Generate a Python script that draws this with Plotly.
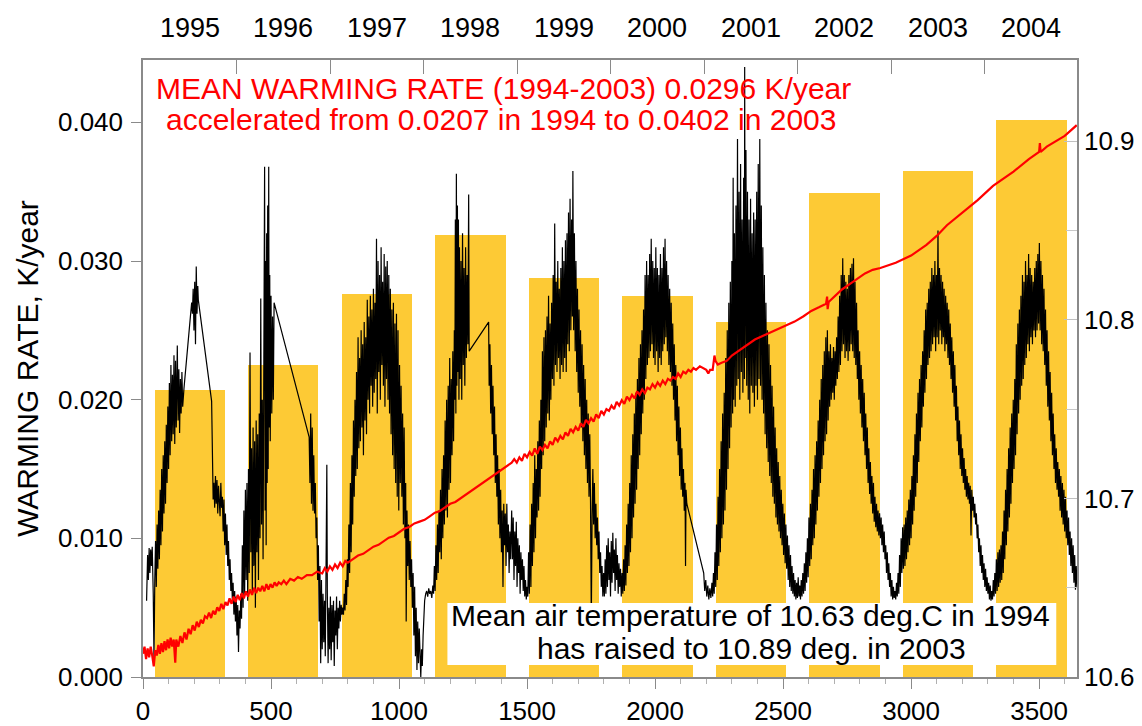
import plotly.graph_objects as go

# Annual mean warming rate (K/year), one bar per year 1994..2003
years = [1994, 1995, 1996, 1997, 1998, 1999, 2000, 2001, 2002, 2003]
annual_rate = [0.0207, 0.0225, 0.0276, 0.0319, 0.0288, 0.0275, 0.0256, 0.0349, 0.0365, 0.0402]

# Labels of the top axis (one per year of record)
top_labels = ["1995", "1996", "1997", "1998", "1999", "2000", "2001", "2002", "2003", "2004"]

# Daily warming rate, (day number, rate in 1e-3 K/year), per year of record
rate_1994 = [(14,5.5),(18,8.8),(21,7.0),(24,9.3),(27,7.5),(30,9.2),(33,8.0),(36,9.4),(40,6.0),(43,1.2),(46,7.0),(49,9.8),(52,6.5),(55,11.0),(58,7.8),(61,12.0),(64,8.5),(67,13.5),(70,9.5),(73,15.0),(76,10.5),(79,16.0),(82,11.8),(85,17.0),(88,12.5),(91,18.2),(94,14.0),(97,19.5),(100,15.0),(103,21.2),(106,16.0),(109,22.5),(112,17.0),(115,21.8),(118,17.5),(121,23.2),(124,16.8),(127,22.8),(130,18.0),(134,23.9),(137,18.5),(140,22.2),(143,17.6),(146,21.5),(149,19.0),(152,22.0),(155,19.5),(160,20.8),(190,27.0),(193,26.2),(196,28.0),(199,25.0),(202,28.5),(205,24.0),(208,29.6),(211,26.2),(214,28.2),(216,27.2),(268,19.9),(271,16.0),(274,12.8),(277,14.0),(280,12.2),(283,14.5),(286,12.5),(289,14.2),(292,11.8),(295,13.8),(298,12.8),(301,11.6),(304,14.0),(307,12.2),(310,13.0),(313,10.5),(316,12.8),(319,9.5),(322,11.8),(325,8.8),(328,11.0),(331,8.0),(334,9.8),(337,7.0),(340,8.5),(343,6.2)]
rate_1995 = [(346,7.5),(349,5.5),(352,6.8),(355,4.5),(358,6.2),(361,4.0),(364,5.8),(367,3.0),(370,5.2),(373,1.8),(376,4.8),(379,3.5),(382,6.0),(385,4.2),(388,9.5),(391,5.0),(394,12.0),(397,6.0),(400,13.5),(403,7.0),(406,14.0),(409,5.5),(412,15.0),(415,7.5),(418,23.4),(421,9.0),(424,16.5),(427,6.0),(430,18.0),(433,8.0),(436,17.0),(439,5.0),(442,18.5),(445,9.0),(448,17.5),(451,7.0),(454,19.0),(457,10.0),(460,27.3),(463,11.0),(466,20.0),(469,8.5),(472,23.0),(475,36.8),(477,12.0),(479,30.0),(481,9.5),(483,32.0),(485,14.0),(487,34.0),(489,15.0),(491,36.8),(493,18.0),(495,29.0),(497,17.0),(500,27.5),(503,19.0),(506,26.0),(509,20.0),(512,27.0),(649,17.3),(652,14.0),(655,19.0),(658,12.5),(661,18.0),(664,12.0),(667,16.0),(670,11.8),(673,14.0),(676,10.0),(679,11.5),(682,7.0),(685,9.5),(688,4.0),(691,8.0),(694,1.0),(697,7.0),(700,2.0),(703,6.0),(706,2.5)]
rate_1996 = [(709,5.5),(712,1.5),(715,8.0),(718,15.3),(720,6.0),(723,1.0),(726,5.0),(729,2.0),(732,5.8),(735,1.2),(738,5.2),(741,2.5),(744,5.5),(747,0.8),(750,4.8),(753,3.0),(756,5.8),(759,2.0),(762,5.0),(765,3.5),(768,5.5),(771,4.0),(774,5.2),(777,4.5),(780,5.0),(783,4.5),(786,6.0),(789,4.8),(792,7.0),(795,5.2),(798,8.5),(801,6.5),(804,11.0),(807,7.5),(810,14.0),(813,9.0),(816,16.0),(819,11.0),(822,18.5),(825,13.0),(828,20.0),(831,14.5),(834,22.0),(837,15.0),(840,24.5),(843,16.5),(846,23.0),(849,17.0),(852,25.0),(855,18.0),(858,24.0),(861,16.0),(864,25.6),(867,18.5),(870,24.5),(873,17.5),(876,27.2),(879,20.0),(882,26.0),(885,19.0),(888,27.5),(891,21.0),(894,26.5),(897,19.5),(900,28.0),(903,20.5),(906,27.0),(909,21.5),(912,31.6),(915,19.0),(918,30.0),(921,22.0),(924,29.0),(927,20.0),(930,31.0),(933,22.5),(936,28.5),(939,21.0),(942,30.5),(945,19.5),(948,29.6),(951,21.5),(954,30.0),(957,20.0),(960,29.0),(963,19.0),(966,28.0),(969,17.5),(972,26.5),(975,16.0),(978,27.0),(981,15.0),(984,25.5),(987,14.0),(990,26.2),(993,13.0),(996,25.0),(999,12.0),(1002,22.5),(1005,14.0),(1008,21.0),(1011,13.0),(1014,19.0),(1017,11.0),(1020,18.0),(1023,10.0),(1026,14.0),(1028,4.0),(1031,12.0),(1034,8.0),(1037,11.0),(1040,7.0),(1043,9.8),(1046,6.5),(1049,8.5),(1052,5.0),(1055,7.5),(1058,3.0),(1061,6.5),(1064,1.5),(1067,5.0),(1070,0.5)]
rate_1997 = [(1073,4.0),(1076,1.0),(1079,3.5),(1082,0.5),(1085,0.0),(1088,2.0),(1091,0.8),(1094,3.0),(1097,4.5),(1100,5.5),(1104,6.0),(1108,6.2),(1112,5.8),(1116,6.4),(1120,6.0),(1124,6.2),(1128,5.7),(1132,6.6),(1135,6.0),(1138,8.0),(1141,6.2),(1144,9.5),(1147,7.0),(1150,11.0),(1153,7.5),(1156,12.0),(1159,9.0),(1162,13.5),(1165,8.5),(1168,15.0),(1171,10.0),(1174,16.0),(1177,11.0),(1180,18.5),(1183,12.0),(1186,20.0),(1189,11.5),(1192,21.0),(1195,13.5),(1198,23.0),(1201,14.0),(1204,21.5),(1207,16.0),(1210,23.5),(1213,17.0),(1216,25.0),(1218,20.0),(1220,33.0),(1222,19.0),(1224,36.3),(1226,21.0),(1228,34.0),(1230,22.0),(1232,33.0),(1234,20.0),(1236,31.0),(1239,21.5),(1242,30.0),(1245,20.0),(1248,32.0),(1251,22.5),(1254,29.5),(1257,21.0),(1260,31.0),(1263,23.0),(1266,29.0),(1269,24.0),(1272,34.8),(1274,23.5),(1350,25.6),(1352,21.0),(1355,24.0),(1358,19.0),(1361,22.5),(1364,17.5),(1367,21.0),(1370,16.0),(1373,19.5),(1376,14.0),(1379,17.5),(1382,13.0),(1385,16.0),(1388,11.0),(1391,15.0),(1394,10.0),(1397,13.5),(1400,9.0),(1403,12.0),(1406,6.5),(1409,12.5),(1412,9.5),(1415,11.8),(1418,8.0),(1421,12.5),(1424,9.0),(1427,11.0),(1430,7.5),(1433,10.5),(1436,8.5)]
rate_1998 = [(1440,12.0),(1443,8.5),(1446,11.5),(1449,7.0),(1452,10.5),(1455,8.0),(1458,11.2),(1461,6.5),(1464,10.0),(1467,7.5),(1470,9.5),(1473,6.0),(1476,9.0),(1479,7.0),(1482,8.5),(1485,6.2),(1488,8.0),(1491,5.8),(1494,7.0),(1497,5.6),(1500,6.5),(1503,5.8),(1506,9.0),(1509,6.0),(1512,11.0),(1515,6.5),(1518,12.5),(1521,8.0),(1524,14.0),(1527,9.0),(1530,16.0),(1533,10.0),(1536,15.0),(1539,11.5),(1542,17.0),(1545,12.0),(1548,18.5),(1551,13.0),(1554,20.0),(1557,15.0),(1560,23.5),(1563,16.0),(1566,24.5),(1569,17.0),(1572,25.0),(1575,18.0),(1578,26.0),(1581,19.0),(1584,27.5),(1587,18.5),(1590,25.5),(1593,20.0),(1596,27.0),(1599,21.5),(1602,29.0),(1605,21.0),(1608,32.7),(1611,22.5),(1614,28.5),(1617,22.0),(1620,30.0),(1623,23.0),(1626,28.0),(1629,21.5),(1632,29.5),(1635,22.5),(1638,31.0),(1641,22.0),(1644,30.0),(1647,23.0),(1650,31.5),(1653,22.0),(1656,32.0),(1659,24.0),(1662,33.5),(1665,23.5),(1668,34.5),(1671,25.0),(1674,33.0),(1677,26.0),(1679,36.5),(1682,25.0),(1685,32.0),(1688,23.5),(1691,30.0),(1694,22.0),(1697,28.0),(1700,20.5),(1703,26.5),(1706,19.5),(1709,25.0),(1712,18.0),(1715,24.0),(1718,17.0),(1721,22.5),(1724,16.0),(1727,21.5),(1730,15.0),(1733,20.0),(1736,14.0),(1739,19.0),(1742,13.0),(1745,17.5),(1748,12.5),(1751,4.0),(1754,11.5),(1757,15.0),(1760,11.0),(1763,14.0),(1766,10.0),(1769,12.5),(1772,9.5),(1775,11.5),(1778,8.5),(1781,10.5),(1784,7.5),(1787,9.0),(1790,6.5),(1793,8.0),(1796,5.8),(1799,7.5),(1802,5.8)]
rate_1999 = [(1805,8.5),(1808,6.0),(1811,9.5),(1814,6.5),(1817,10.0),(1820,7.0),(1823,9.0),(1826,5.8),(1829,9.8),(1832,6.8),(1835,10.4),(1838,7.5),(1841,9.2),(1844,6.2),(1847,10.0),(1850,7.0),(1853,8.8),(1856,6.0),(1859,8.2),(1862,6.5),(1865,7.8),(1868,5.8),(1871,7.5),(1874,6.0),(1877,8.5),(1880,6.2),(1883,9.5),(1886,6.6),(1889,11.0),(1892,7.5),(1895,12.5),(1898,8.0),(1901,14.0),(1904,9.0),(1907,16.0),(1910,10.0),(1913,17.5),(1916,11.5),(1919,19.0),(1922,12.5),(1925,20.5),(1928,13.5),(1931,21.5),(1934,15.0),(1937,23.0),(1940,16.0),(1943,24.0),(1946,17.5),(1949,25.0),(1952,19.0),(1955,26.5),(1958,20.0),(1961,29.0),(1964,21.5),(1967,30.0),(1970,22.5),(1973,29.0),(1976,23.0),(1979,30.5),(1982,23.5),(1985,31.6),(1988,24.0),(1991,30.0),(1994,23.0),(1997,29.5),(2000,22.5),(2003,31.0),(2006,23.5),(2009,29.5),(2012,22.0),(2015,29.0),(2018,23.0),(2021,30.5),(2024,22.5),(2027,29.5),(2030,23.5),(2033,31.0),(2036,24.0),(2039,31.6),(2042,24.5),(2045,30.0),(2048,23.5),(2051,29.0),(2054,22.5),(2057,28.0),(2060,22.0),(2063,27.0),(2066,21.0),(2069,25.5),(2072,20.0),(2075,24.0),(2078,18.5),(2081,22.5),(2084,17.0),(2087,21.0),(2090,16.0),(2093,19.5),(2096,14.5),(2099,18.0),(2102,13.5),(2105,16.5),(2108,13.0),(2111,15.0),(2114,12.0),(2117,14.0),(2119,8.0),(2121,13.5),(2124,12.5)]
rate_2000 = [(2190,7.5),(2194,6.2),(2198,7.0),(2202,5.8),(2206,6.6),(2210,5.6),(2214,6.4),(2218,5.7),(2222,6.8),(2225,5.8),(2228,7.5),(2231,6.0),(2234,9.0),(2237,6.5),(2240,11.0),(2243,7.0),(2246,13.0),(2249,8.0),(2252,15.0),(2255,9.0),(2258,17.0),(2261,10.0),(2264,19.0),(2267,11.0),(2270,20.5),(2273,12.0),(2276,23.0),(2279,13.5),(2282,25.0),(2285,15.0),(2288,27.0),(2291,16.5),(2294,28.5),(2297,18.0),(2300,30.0),(2303,19.0),(2305,36.0),(2307,20.0),(2310,32.0),(2313,19.5),(2316,34.0),(2319,21.0),(2322,38.8),(2325,21.5),(2328,35.0),(2331,20.0),(2334,37.0),(2337,22.0),(2340,33.0),(2343,20.5),(2346,36.0),(2349,21.5),(2350,44.0),(2352,23.0),(2355,38.0),(2358,21.0),(2361,35.0),(2364,20.0),(2367,33.0),(2370,19.0),(2373,34.5),(2376,21.0),(2379,32.0),(2382,20.5),(2385,33.5),(2388,19.5),(2391,33.0),(2394,21.0),(2397,35.0),(2400,20.0),(2403,37.0),(2406,21.5),(2409,38.8),(2412,21.0),(2415,34.0),(2418,20.0),(2421,31.0),(2424,19.0),(2427,29.0),(2430,17.5),(2433,27.0),(2436,16.5),(2439,25.0),(2442,15.5),(2445,24.0),(2448,14.5),(2451,22.5),(2454,14.0),(2457,21.0),(2460,13.0),(2463,19.5),(2466,12.5),(2469,18.0),(2472,11.5),(2475,16.5),(2478,11.0),(2481,15.5),(2484,10.5),(2487,14.5),(2490,10.0),(2493,13.5),(2496,9.5),(2499,12.5),(2502,8.8),(2505,11.8),(2508,8.2),(2511,11.0),(2514,7.8),(2517,10.2),(2520,7.0),(2523,9.5),(2526,6.5),(2529,8.8),(2532,6.2)]
rate_2001 = [(2535,8.0),(2538,6.0),(2541,7.5),(2544,5.8),(2547,7.0),(2550,5.6),(2553,6.8),(2556,5.7),(2559,7.2),(2562,5.8),(2565,6.6),(2568,5.6),(2571,7.0),(2574,5.8),(2577,7.5),(2580,6.0),(2583,8.2),(2586,6.2),(2589,9.0),(2592,6.8),(2595,10.0),(2598,7.2),(2601,11.5),(2604,8.0),(2607,12.5),(2610,8.5),(2613,13.5),(2616,9.5),(2619,15.0),(2622,10.0),(2625,16.0),(2628,11.0),(2631,17.0),(2634,12.0),(2637,18.5),(2640,13.0),(2643,20.0),(2646,14.0),(2649,21.5),(2652,15.0),(2655,22.5),(2658,16.0),(2661,23.5),(2664,17.0),(2667,24.5),(2670,17.5),(2673,25.0),(2676,18.5),(2679,23.5),(2682,19.5),(2685,24.0),(2688,20.0),(2691,23.0),(2694,20.5),(2697,23.8),(2700,20.0),(2703,23.5),(2706,21.0),(2709,24.5),(2712,21.5),(2715,26.0),(2718,22.0),(2721,27.5),(2724,22.5),(2727,29.0),(2730,23.5),(2733,30.2),(2736,24.0),(2739,29.0),(2742,23.0),(2745,28.5),(2748,23.5),(2751,28.0),(2754,22.8),(2757,29.0),(2760,23.5),(2763,29.5),(2766,24.0),(2769,29.8),(2772,23.5),(2775,30.2),(2778,23.0),(2781,28.5),(2784,22.5),(2787,27.0),(2790,21.5),(2793,25.0),(2796,20.0),(2799,23.5),(2802,19.0),(2805,22.5),(2808,18.0),(2811,21.5),(2814,17.0),(2817,20.5),(2820,16.0),(2823,19.0),(2826,15.0),(2829,18.0),(2832,14.0),(2835,16.5),(2838,13.2),(2841,15.5),(2844,12.5),(2847,14.5),(2850,11.8),(2853,14.0),(2856,11.2),(2859,13.0),(2862,10.8),(2865,12.5),(2868,10.5),(2871,12.0),(2874,10.2),(2877,11.8),(2880,10.0),(2883,11.5),(2886,9.5),(2889,11.0),(2892,9.0),(2895,10.5),(2898,8.5)]
rate_2002 = [(2901,9.5),(2904,7.5),(2907,9.0),(2910,7.0),(2913,8.2),(2916,6.5),(2919,7.5),(2922,5.8),(2925,7.0),(2928,5.6),(2931,6.5),(2934,5.7),(2937,6.2),(2940,5.6),(2943,6.8),(2946,5.8),(2949,7.5),(2952,6.0),(2955,8.8),(2958,6.5),(2961,10.0),(2964,7.5),(2967,10.8),(2970,7.8),(2973,11.0),(2976,8.0),(2979,11.5),(2982,8.5),(2985,12.0),(2988,9.0),(2991,12.8),(2994,9.5),(2997,13.5),(3000,10.0),(3003,14.5),(3006,11.0),(3009,16.0),(3012,12.0),(3015,17.5),(3018,13.0),(3021,19.0),(3024,14.0),(3027,20.5),(3030,15.5),(3033,21.5),(3036,17.0),(3039,22.5),(3042,18.0),(3045,23.5),(3048,19.5),(3051,25.0),(3054,20.5),(3057,26.5),(3060,21.5),(3063,27.0),(3066,22.5),(3069,28.0),(3072,23.0),(3075,28.5),(3078,23.5),(3081,29.5),(3084,24.0),(3087,29.0),(3090,24.5),(3093,30.0),(3096,23.5),(3099,29.0),(3102,24.5),(3105,32.2),(3108,24.0),(3111,29.5),(3114,25.0),(3117,29.0),(3120,24.0),(3123,28.5),(3126,24.5),(3129,28.0),(3132,23.5),(3135,27.5),(3138,24.0),(3141,27.0),(3144,23.0),(3147,26.5),(3150,22.5),(3153,25.5),(3156,21.5),(3159,24.5),(3162,20.5),(3165,23.5),(3168,19.5),(3171,22.5),(3174,18.5),(3177,21.0),(3180,17.0),(3183,19.5),(3186,16.0),(3189,18.5),(3192,15.0),(3195,17.5),(3198,14.5),(3201,16.5),(3204,14.0),(3207,15.8),(3210,13.5),(3213,15.0),(3216,13.0),(3219,14.5),(3222,12.8),(3225,14.0),(3228,12.5),(3231,13.8),(3234,10.2),(3237,13.5),(3240,12.0),(3243,13.0),(3246,11.5),(3249,12.5),(3252,11.0),(3255,11.8),(3258,10.0),(3261,11.0),(3264,9.0)]
rate_2003 = [(3267,10.0),(3270,8.0),(3273,9.5),(3276,7.5),(3279,8.8),(3282,7.0),(3285,8.2),(3288,6.5),(3291,7.8),(3294,6.2),(3297,7.2),(3300,6.0),(3303,6.8),(3306,5.6),(3309,6.6),(3312,5.5),(3315,6.2),(3318,5.6),(3321,7.0),(3324,5.8),(3327,7.5),(3330,6.0),(3333,8.5),(3336,6.2),(3339,9.0),(3342,6.5),(3345,9.2),(3348,6.8),(3351,9.5),(3354,7.0),(3357,10.5),(3360,7.5),(3363,12.0),(3366,8.5),(3369,13.5),(3372,9.5),(3375,15.0),(3378,10.5),(3381,16.5),(3384,11.5),(3387,18.0),(3390,12.5),(3393,19.0),(3396,14.0),(3399,20.0),(3402,15.0),(3405,21.5),(3408,16.0),(3411,24.0),(3414,17.5),(3417,25.5),(3420,19.0),(3423,26.5),(3426,20.0),(3429,27.5),(3432,21.0),(3435,29.0),(3438,21.5),(3441,28.5),(3444,22.5),(3447,30.0),(3450,23.0),(3453,29.0),(3456,24.0),(3459,30.5),(3462,23.5),(3465,29.5),(3468,24.5),(3471,29.0),(3474,24.0),(3477,28.5),(3480,25.0),(3483,29.5),(3486,24.5),(3489,30.0),(3492,25.0),(3495,30.5),(3498,25.5),(3501,31.3),(3504,25.0),(3507,30.0),(3510,24.0),(3513,29.0),(3516,23.5),(3519,28.0),(3522,22.5),(3525,26.5),(3528,21.0),(3531,25.0),(3534,19.5),(3537,23.5),(3540,18.5),(3543,22.0),(3546,17.0),(3549,20.5),(3552,16.0),(3555,19.0),(3558,15.0),(3561,17.5),(3564,14.0),(3567,16.5),(3570,13.5),(3573,15.5),(3576,13.0),(3579,15.0),(3582,12.0),(3585,14.5),(3588,11.5),(3591,14.0),(3594,11.0),(3597,13.5),(3600,10.5),(3603,13.0),(3606,10.0),(3609,12.0),(3612,9.5),(3615,11.5),(3618,8.8),(3621,10.5),(3624,8.0),(3627,10.0),(3630,7.5),(3633,9.5),(3636,6.8),(3639,8.8),(3642,6.3),(3645,8.0),(3648,6.5)]

# Running mean air temperature (day number, deg C)
air_temp = [(0,10.613),(6,10.617),(12,10.610),(18,10.616),(24,10.611),(30,10.617),(36,10.612),(42,10.606),(48,10.615),(54,10.612),(60,10.618),(66,10.613),(72,10.619),(78,10.614),(84,10.620),(90,10.615),(96,10.621),(102,10.616),(108,10.622),(114,10.617),(120,10.621),(126,10.608),
            (130,10.621),(138,10.617),(146,10.623),(154,10.619),(162,10.625),(170,10.621),(178,10.627),(186,10.624),(194,10.629),(202,10.626),(210,10.631),(218,10.628),(226,10.632),(234,10.630),(242,10.634),(250,10.633),(258,10.636),(266,10.633),(274,10.637),(282,10.635),(290,10.639),(298,10.637),(306,10.641),(314,10.638),(322,10.642),(330,10.640),(338,10.644),(346,10.641),(354,10.645),(362,10.642),(370,10.646),(378,10.643),(386,10.647),(394,10.644),(402,10.648),(410,10.645),(418,10.649),(426,10.646),(434,10.650),(442,10.647),(450,10.650),(458,10.648),(466,10.651),(474,10.648),(482,10.652),(490,10.649),(498,10.652),(506,10.650),(514,10.653),(522,10.651),(530,10.653),(540,10.652),(550,10.654),(560,10.652),(575,10.655),(590,10.654),(605,10.656),(620,10.655),(640,10.657),(660,10.657),(680,10.659),(700,10.658),
            (710,10.661),(720,10.659),(730,10.662),(740,10.660),(750,10.663),(760,10.661),(770,10.664),(780,10.662),(790,10.665),(800,10.664),(820,10.666),(840,10.668),(860,10.669),(880,10.671),(900,10.673),(920,10.674),(940,10.676),(960,10.678),(980,10.679),(1000,10.681),(1020,10.683),(1040,10.684),(1060,10.686),(1080,10.687),(1100,10.688),(1120,10.690),(1140,10.692),(1160,10.693),(1180,10.695),(1200,10.697),(1220,10.698),(1240,10.700),(1260,10.702),(1280,10.704),(1300,10.706),(1320,10.708),(1340,10.710),(1360,10.712),(1380,10.714),(1400,10.716),(1420,10.718),(1440,10.720),
            (1450,10.722),(1460,10.720),(1470,10.723),(1480,10.721),(1490,10.725),(1500,10.723),(1510,10.726),(1520,10.724),(1530,10.728),(1540,10.725),(1550,10.729),(1560,10.727),(1570,10.730),(1580,10.728),(1590,10.732),(1600,10.730),(1610,10.734),(1620,10.732),(1630,10.735),(1640,10.733),(1650,10.737),(1660,10.735),(1670,10.739),(1680,10.737),(1690,10.740),(1700,10.738),(1710,10.742),(1720,10.740),(1730,10.744),(1740,10.742),(1750,10.745),(1760,10.743),(1770,10.747),(1780,10.745),(1790,10.749),(1800,10.747),(1810,10.750),(1820,10.749),(1830,10.752),(1840,10.750),(1850,10.754),(1860,10.752),(1870,10.755),(1880,10.753),(1890,10.757),(1900,10.755),(1910,10.758),(1920,10.756),(1930,10.760),(1940,10.758),(1950,10.761),(1960,10.759),(1970,10.762),(1980,10.761),(1990,10.764),(2000,10.762),(2010,10.765),(2020,10.763),(2030,10.766),(2040,10.764),(2050,10.767),(2060,10.766),(2070,10.768),(2080,10.767),(2090,10.770),(2100,10.768),(2110,10.771),(2120,10.770),(2130,10.772),(2140,10.771),(2150,10.773),(2160,10.772),
            (2175,10.774),(2190,10.773),(2200,10.772),(2208,10.770),(2215,10.772),(2225,10.772),(2232,10.780),(2236,10.777),(2245,10.775),(2260,10.776),(2280,10.777),(2300,10.780),(2330,10.783),(2360,10.786),(2390,10.789),(2420,10.791),(2450,10.793),(2480,10.795),(2510,10.797),(2545,10.799),(2580,10.802),(2610,10.805),(2640,10.807),(2668,10.809),(2672,10.813),(2674,10.806),(2678,10.810),(2700,10.813),(2730,10.817),(2760,10.820),(2790,10.823),(2820,10.826),(2850,10.828),(2880,10.829),(2940,10.832),(3000,10.836),(3060,10.842),(3100,10.847),(3140,10.853),(3200,10.860),(3260,10.867),(3320,10.875),(3400,10.883),(3460,10.890),(3500,10.894),(3503,10.899),(3506,10.894),(3530,10.897),(3600,10.903),(3647,10.909)]

DAYS_PER_YEAR = 365.25
FONT = "Liberation Sans, Arial, sans-serif"
GREY = "#8a8a8a"

daily = (rate_1994 + rate_1995 + rate_1996 + rate_1997 + rate_1998 +
         rate_1999 + rate_2000 + rate_2001 + rate_2002 + rate_2003)
rate_days = [d for d, _ in daily]
rate_vals = [v * 1e-3 for _, v in daily]
temp_days = [d for d, _ in air_temp]
temp_vals = [t for _, t in air_temp]

bar_centres = [(y - years[0] + 0.5) * DAYS_PER_YEAR for y in years]
year_edges = [k * DAYS_PER_YEAR for k in range(1, len(years))]

X_RANGE = [0, 3648]
RATE_RANGE = [0, 0.0445]
TEMP_RANGE = [10.6, 10.6 + 0.0445 * 7.764]

fig = go.Figure()
fig.add_trace(go.Bar(x=bar_centres, y=annual_rate, width=275,
                     marker=dict(color="#FDCA35", line=dict(width=0)),
                     xaxis="x", yaxis="y", hoverinfo="skip"))
fig.add_trace(go.Scatter(x=rate_days, y=rate_vals, mode="lines",
                         line=dict(color="black", width=1.2),
                         xaxis="x", yaxis="y"))
fig.add_trace(go.Scatter(x=temp_days, y=temp_vals, mode="lines",
                         line=dict(color="#ff0000", width=2.2),
                         xaxis="x2", yaxis="y2"))

axis_common = dict(showgrid=False, zeroline=False, showline=True, automargin=False,
                   linecolor=GREY, linewidth=1.5, tickwidth=1.2)

fig.update_layout(
    width=1142, height=726,
    margin=dict(l=143, r=65, t=60, b=49, autoexpand=False),
    paper_bgcolor="white", plot_bgcolor="white",
    showlegend=False, bargap=0,
    font=dict(family=FONT, size=26, color="black"),
    xaxis=dict(**axis_common, range=X_RANGE, anchor="y", tickcolor=GREY,
               tickvals=[0, 500, 1000, 1500, 2000, 2500, 3000, 3500],
               ticks="outside", ticklen=10,
               minor=dict(dtick=100, tick0=0, ticks="outside", ticklen=5, tickcolor="#b0b0b0"),
               tickfont=dict(size=26)),
    xaxis2=dict(**axis_common, range=X_RANGE, overlaying="x", side="top", anchor="y2",
                tickcolor=GREY, tickvals=year_edges, ticks="inside", ticklen=14,
                showticklabels=False),
    yaxis=dict(**axis_common, range=RATE_RANGE, anchor="x", tickcolor=GREY,
               tickvals=[0, 0.01, 0.02, 0.03, 0.04], tickformat=".3f",
               ticks="outside", ticklen=10, ticklabelstandoff=3,
               tickfont=dict(size=26),
               title=dict(text="WARMING RATE, K/year", font=dict(size=30), standoff=10)),
    yaxis2=dict(**axis_common, range=TEMP_RANGE, overlaying="y", side="right", anchor="x2",
                tickvals=[10.6, 10.7, 10.8, 10.9], ticktext=["10.6", "10.7", "10.8", "10.9"],
                ticks="inside", ticklen=13, tickcolor="#c0c0c0", ticklabelstandoff=0,
                minor=dict(tickvals=[10.65, 10.75, 10.85], ticks="inside", ticklen=11,
                           tickcolor="#c8c8c8"),
                tickfont=dict(size=26)),
)

# Year labels above the top axis, centred in each year
for label, xc in zip(top_labels, bar_centres):
    fig.add_annotation(x=xc, xref="x", y=1, yref="paper", yanchor="bottom",
                       text=label, showarrow=False, yshift=15,
                       font=dict(family=FONT, size=27, color="black"))

# Red headline
fig.add_annotation(x=1408, xref="x", y=0.9546, yref="paper", yanchor="middle",
                   text="MEAN WARMING RATE (1994-2003) 0.0296 K/year", showarrow=False,
                   font=dict(family=FONT, size=30, color="#ff0000"))
fig.add_annotation(x=1400, xref="x", y=0.9028, yref="paper", yanchor="middle",
                   text="accelerated from 0.0207 in 1994 to 0.0402 in 2003", showarrow=False,
                   font=dict(family=FONT, size=30, color="#ff0000"))

# White box with the temperature note
fig.add_shape(type="rect", xref="x", yref="paper", x0=1189, x1=3567, y0=0.0194, y1=0.1199,
              fillcolor="white", line=dict(width=0), layer="above")
fig.add_annotation(x=2374, xref="x", y=0.0989, yref="paper", yanchor="middle",
                   text="Mean air temperature of 10.63 deg.C in 1994", showarrow=False,
                   font=dict(family=FONT, size=30, color="black"))
fig.add_annotation(x=2378, xref="x", y=0.0454, yref="paper", yanchor="middle",
                   text="has raised to 10.89 deg. in 2003", showarrow=False,
                   font=dict(family=FONT, size=30, color="black"))

fig.write_html("out.html")
